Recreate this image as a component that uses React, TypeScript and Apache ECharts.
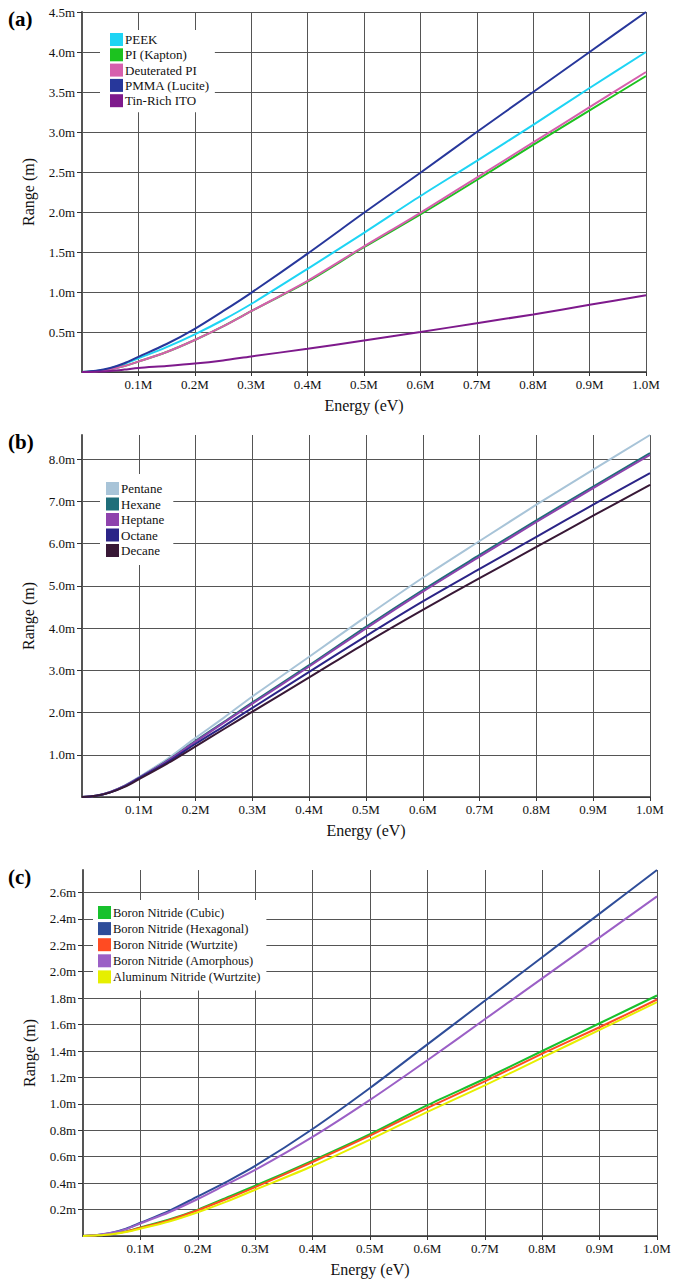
import React, { useEffect, useRef } from "react";
import * as echarts from "echarts";

// ---------- DATA ----------
const energy = [0, 0.025, 0.05, 0.075, 0.1, 0.15, 0.2, 0.25, 0.3, 0.4, 0.5, 0.6, 0.7, 0.8, 0.9, 1.0];

// Panel (a)
const peek = [0, 0.013, 0.045, 0.1, 0.17, 0.31, 0.47, 0.65, 0.85, 1.29, 1.74, 2.2, 2.64, 3.09, 3.55, 4.0];
const piKapton = [0, 0.01, 0.035, 0.075, 0.13, 0.25, 0.4, 0.57, 0.76, 1.13, 1.56, 1.97, 2.4, 2.84, 3.27, 3.7];
const deuteratedPI = [0, 0.01, 0.035, 0.075, 0.13, 0.25, 0.4, 0.57, 0.76, 1.14, 1.57, 1.99, 2.43, 2.87, 3.31, 3.75];
const pmma = [0, 0.015, 0.05, 0.11, 0.19, 0.35, 0.54, 0.76, 0.99, 1.48, 1.99, 2.49, 3.0, 3.5, 4.0, 4.5];
const tinRichITO = [0, 0.004, 0.013, 0.03, 0.05, 0.075, 0.105, 0.145, 0.195, 0.29, 0.395, 0.5, 0.61, 0.72, 0.84, 0.96];

// Panel (b)
const pentane = [0, 0.03, 0.12, 0.27, 0.47, 0.9, 1.4, 1.88, 2.38, 3.32, 4.27, 5.19, 6.06, 6.92, 7.75, 8.57];
const hexane = [0, 0.03, 0.12, 0.26, 0.45, 0.86, 1.33, 1.78, 2.24, 3.12, 4.03, 4.9, 5.73, 6.55, 7.35, 8.14];
const heptane = [0, 0.03, 0.12, 0.26, 0.45, 0.85, 1.31, 1.76, 2.21, 3.09, 3.99, 4.86, 5.69, 6.51, 7.31, 8.1];
const octane = [0, 0.03, 0.11, 0.25, 0.44, 0.82, 1.26, 1.68, 2.11, 2.96, 3.81, 4.63, 5.4, 6.16, 6.92, 7.67];
const decane = [0, 0.03, 0.11, 0.24, 0.42, 0.79, 1.2, 1.61, 2.02, 2.83, 3.65, 4.43, 5.18, 5.92, 6.66, 7.39];

// Panel (c)
const bnCubic = [0, 0.005, 0.016, 0.035, 0.065, 0.125, 0.2, 0.29, 0.38, 0.57, 0.77, 0.99, 1.19, 1.4, 1.61, 1.82];
const bnHexagonal = [0, 0.008, 0.025, 0.055, 0.1, 0.19, 0.3, 0.41, 0.53, 0.81, 1.12, 1.45, 1.78, 2.11, 2.44, 2.77];
const bnWurtzite = [0, 0.005, 0.015, 0.033, 0.062, 0.12, 0.195, 0.28, 0.37, 0.56, 0.76, 0.97, 1.17, 1.38, 1.58, 1.79];
const bnAmorphous = [0, 0.008, 0.024, 0.052, 0.095, 0.18, 0.28, 0.39, 0.5, 0.75, 1.03, 1.33, 1.64, 1.95, 2.26, 2.57];
const alnWurtzite = [0, 0.005, 0.014, 0.03, 0.055, 0.11, 0.18, 0.26, 0.35, 0.53, 0.73, 0.94, 1.14, 1.35, 1.56, 1.77];

const panelA = [
  { name: "PEEK", values: peek, color: "#1ed4f4" },
  { name: "PI (Kapton)", values: piKapton, color: "#1cc21f" },
  { name: "Deuterated PI", values: deuteratedPI, color: "#d65fad" },
  { name: "PMMA (Lucite)", values: pmma, color: "#27379b" },
  { name: "Tin-Rich ITO", values: tinRichITO, color: "#7e1a8c" },
];
const panelB = [
  { name: "Pentane", values: pentane, color: "#a8c4d8" },
  { name: "Hexane", values: hexane, color: "#1f6e7a" },
  { name: "Heptane", values: heptane, color: "#8e43ad" },
  { name: "Octane", values: octane, color: "#2b2487" },
  { name: "Decane", values: decane, color: "#381836" },
];
const panelC = [
  { name: "Boron Nitride (Cubic)", values: bnCubic, color: "#17c12d" },
  { name: "Boron Nitride (Hexagonal)", values: bnHexagonal, color: "#2e4d99" },
  { name: "Boron Nitride (Wurtzite)", values: bnWurtzite, color: "#ff4b22" },
  { name: "Boron Nitride (Amorphous)", values: bnAmorphous, color: "#9b60c6" },
  { name: "Aluminum Nitride (Wurtzite)", values: alnWurtzite, color: "#e6ef00" },
];
const panelLabels = ["(a)", "(b)", "(c)"];

const FONT = "Liberation Serif";

export default function App() {
  const ref = useRef<HTMLDivElement>(null);

  useEffect(() => {
    if (!ref.current) return;
    const chart = echarts.init(ref.current, null, { renderer: "svg" });

    const grids = [
      { left: 82, width: 564, top: 12, height: 360, ymax: 4.5, yInt: 0.5, maxLine: true },
      { left: 82, width: 568, top: 435, height: 362, ymax: 8.57, yInt: 1, maxLine: false },
      { left: 83, width: 574, top: 870, height: 366, ymax: 2.77, yInt: 0.2, maxLine: false },
    ];
    const panels = [panelA, panelB, panelC];

    const xAxis = grids.map((g, i) => ({
      type: "value",
      gridIndex: i,
      min: 0,
      max: 1,
      interval: 0.1,
      name: "Energy (eV)",
      nameLocation: "middle",
      nameGap: 25,
      nameTextStyle: { fontFamily: FONT, fontSize: 16, color: "#111" },
      axisLine: { show: true, onZero: false, lineStyle: { color: "#333", width: 1.5 } },
      axisTick: { show: true, length: 4, lineStyle: { color: "#333" } },
      axisLabel: {
        fontFamily: FONT,
        fontSize: 13,
        color: "#111",
        margin: 6,
        showMinLabel: false,
        formatter: (v: number) => v.toFixed(1) + "M",
      },
      splitLine: { show: true, lineStyle: { color: "#555", width: 1 } },
    }));

    const yAxis = grids.map((g, i) => ({
      type: "value",
      gridIndex: i,
      min: 0,
      max: g.ymax,
      interval: g.yInt,
      name: "Range (m)",
      nameLocation: "middle",
      nameGap: 46,
      nameTextStyle: { fontFamily: FONT, fontSize: 16, color: "#111" },
      axisLine: { show: true, onZero: false, lineStyle: { color: "#555", width: 2 } },
      axisTick: { show: true, length: 5, lineStyle: { color: "#333" } },
      axisLabel: {
        fontFamily: FONT,
        fontSize: 13,
        color: "#111",
        margin: 7,
        showMinLabel: false,
        showMaxLabel: g.maxLine,
        formatter: (v: number) => v.toFixed(1) + "m",
      },
      splitLine: { show: true, showMaxLine: g.maxLine, lineStyle: { color: "#555", width: 1 } },
    }));

    const series: any[] = [];
    panels.forEach((p, i) => {
      p.forEach((s) => {
        series.push({
          type: "line",
          name: s.name,
          xAxisIndex: i,
          yAxisIndex: i,
          data: energy.map((e, k) => [e, s.values[k]]),
          showSymbol: false,
          symbol: "none",
          smooth: 0.3,
          lineStyle: { color: s.color, width: 2 },
          itemStyle: { color: s.color },
          z: 3,
        });
      });
    });

    const legendBase = {
      orient: "vertical",
      icon: "rect",
      itemWidth: 13,
      itemHeight: 13,
      backgroundColor: "#ffffff",
      selectedMode: false,
      z: 10,
    };
    const legend = [
      {
        ...legendBase,
        data: panelA.map((s) => s.name),
        left: 100,
        top: 30,
        padding: [3, 5, 5, 10],
        itemGap: 2.3,
        textStyle: { fontFamily: FONT, fontSize: 13, color: "#111", padding: [0, 0, 0, -3] },
      },
      {
        ...legendBase,
        data: panelB.map((s) => s.name),
        left: 100,
        top: 474,
        padding: [8, 9, 8, 6],
        itemGap: 2.5,
        textStyle: { fontFamily: FONT, fontSize: 13, color: "#111", padding: [0, 0, 0, -3] },
      },
      {
        ...legendBase,
        data: panelC.map((s) => s.name),
        left: 93,
        top: 900,
        padding: [6, 6, 7, 5],
        itemGap: 3.1,
        textStyle: { fontFamily: FONT, fontSize: 12.5, color: "#111", padding: [0, 0, 0, -3] },
      },
    ];

    const labelTops = [8, 431, 866];
    const graphic = panelLabels.map((t, i) => ({
      type: "text",
      left: 8,
      top: labelTops[i],
      z: 20,
      style: { text: t, font: `bold 21px ${FONT}`, fill: "#000" },
    }));

    chart.setOption({
      animation: false,
      backgroundColor: "#ffffff",
      grid: grids.map((g) => ({ left: g.left, top: g.top, width: g.width, height: g.height })),
      xAxis,
      yAxis,
      legend,
      graphic,
      series,
    });

    return () => chart.dispose();
  }, []);

  return (
    <div
      ref={ref}
      style={{ position: "absolute", left: 0, top: 0, width: 682, height: 1284, background: "#fff" }}
    />
  );
}
